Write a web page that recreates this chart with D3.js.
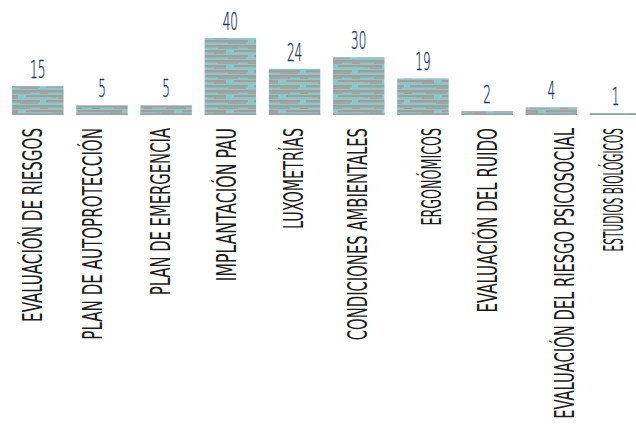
<!DOCTYPE html>
<html>
<head>
<meta charset="utf-8">
<script src="https://cdn.jsdelivr.net/npm/d3@7"></script>
<style>
  html, body { margin: 0; padding: 0; background: #ffffff; }
  svg { display: block; }
</style>
</head>
<body>
<svg id="chart" width="636" height="430"></svg>
<script>
// ---- data ----
const categories = [
  "EVALUACIÓN DE RIESGOS",
  "PLAN DE AUTOPROTECCIÓN",
  "PLAN DE EMERGENCIA",
  "IMPLANTACIÓN PAU",
  "LUXOMETRÍAS",
  "CONDICIONES AMBIENTALES",
  "ERGONÓMICOS",
  "EVALUACIÓN DEL RUIDO",
  "EVALUACIÓN DEL RIESGO PSICOSOCIAL",
  "ESTUDIOS BIOLÓGICOS"
];
const values = [15, 5, 5, 40, 24, 30, 19, 2, 4, 1];
const valueLabels = ["15", "5", "5", "40", "24", "30", "19", "2", "4", "1"];

// ---- layout ----
const baseY = 115, topY = 38;
const labelTop = 128;
const labelNudge = [-5, -9.5, -5.5, -4.5, -1.5, -1, 8, 0.5, 12.5, -2];
const labelSquash = [1, 1, 0.98, 1.04, 0.95, 0.98, 0.84, 1, 0.975, 0.7];
const teal = "#8dc8c6", gray = "#a09e9e";

const svg = d3.select("#chart");

const x = d3.scaleBand()
  .domain(categories)
  .range([12, 641.3])
  .paddingInner(0.198)
  .paddingOuter(0);

const y = d3.scaleLinear().domain([0, 40]).range([baseY, topY]);

// streaky texture
const defs = svg.append("defs");
const pat = defs.append("pattern")
  .attr("id", "streaks")
  .attr("patternUnits", "userSpaceOnUse")
  .attr("width", 52).attr("height", 15);
pat.append("rect").attr("width", 52).attr("height", 15).attr("fill", teal);
const streaks = [
  [0, 0, 52, 2.5], [10, 2.5, 20, 1.2], [0, 5, 18, 2.5], [26, 5, 26, 2.2],
  [6, 7.5, 12, 1.2], [0, 10, 40, 2.5], [46, 10, 6, 2.5], [20, 12.5, 18, 1.2],
  [40, 2.5, 8, 1.5]
];
pat.selectAll("rect.s").data(streaks).join("rect")
  .attr("class", "s")
  .attr("x", d => d[0]).attr("y", d => d[1])
  .attr("width", d => d[2]).attr("height", d => d[3])
  .attr("fill", gray);

const rows = categories.map((c, i) => ({ c, v: values[i], lab: valueLabels[i], i }));

// bars
svg.append("g").selectAll("rect").data(rows).join("rect")
  .attr("x", d => x(d.c))
  .attr("y", d => y(d.v))
  .attr("width", x.bandwidth())
  .attr("height", d => Math.max(1.5, baseY - y(d.v)))
  .attr("fill", "url(#streaks)");
svg.append("g").selectAll("rect").data(rows).join("rect")
  .attr("x", d => x(d.c))
  .attr("y", baseY - 1.5)
  .attr("width", x.bandwidth())
  .attr("height", 1.5)
  .attr("fill", gray);

// value labels
svg.append("g").selectAll("text").data(rows).join("text")
  .attr("transform", d => `translate(${x(d.c) + x.bandwidth() / 2},${y(d.v) - 8}) scale(0.5,1)`)
  .attr("text-anchor", "middle")
  .attr("font-family", "'DejaVu Sans', sans-serif")
  .attr("font-weight", 200)
  .attr("font-size", 24)
  .attr("fill", "#1b3566")
  .attr("stroke", "#1b3566")
  .attr("stroke-width", 0.4)
  .text(d => d.lab);

// category labels
const fontSize = 27;
const cat = svg.append("g").selectAll("text").data(rows).join("text")
  .attr("text-anchor", "end")
  .attr("dy", "0.36em")
  .attr("font-family", "'DejaVu Sans Condensed', 'DejaVu Sans', sans-serif")
  .attr("font-size", fontSize)
  .attr("fill", "#1c1c1c")
  .text(d => d.c);

const ref = cat.filter(d => d.i === 0).node();
const sx = 194 / ref.getComputedTextLength();
cat.attr("transform", d =>
  `translate(${x(d.c) + x.bandwidth() / 2 + labelNudge[d.i]},${labelTop}) rotate(-90) scale(${sx * labelSquash[d.i]},1)`);
</script>
</body>
</html>
